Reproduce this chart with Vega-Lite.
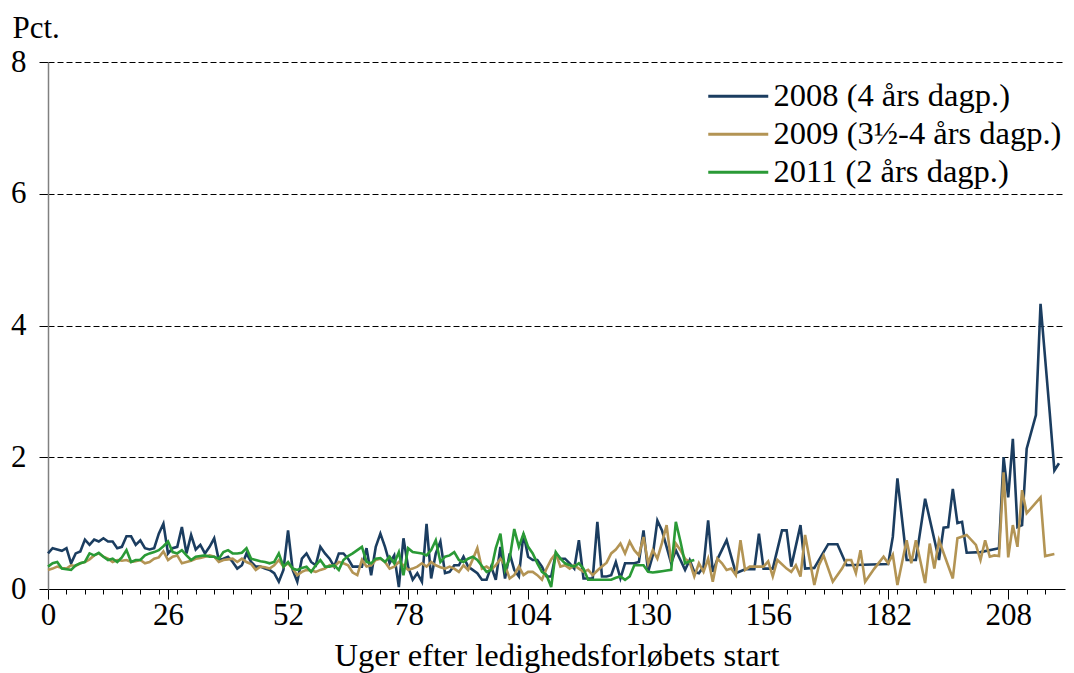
{
"$schema": "https://vega.github.io/schema/vega-lite/v6.json",
"width": 1017, "height": 527,
"autosize": {"type": "none"},
"padding": {"left": 48, "top": 62, "right": 9, "bottom": 84},
"background": "white",
"config": {"view": {"stroke": null}, "font": "Liberation Serif"},
"data": {"values": [
{"s":"2008","w":0,"v":0.54},{"s":"2008","w":1,"v":0.62},{"s":"2008","w":2,"v":0.6},{"s":"2008","w":3,"v":0.58},{"s":"2008","w":4,"v":0.62},{"s":"2008","w":5,"v":0.39},{"s":"2008","w":6,"v":0.54},{"s":"2008","w":7,"v":0.57},{"s":"2008","w":8,"v":0.75},{"s":"2008","w":9,"v":0.67},
{"s":"2008","w":10,"v":0.75},{"s":"2008","w":11,"v":0.72},{"s":"2008","w":12,"v":0.77},{"s":"2008","w":13,"v":0.72},{"s":"2008","w":14,"v":0.72},{"s":"2008","w":15,"v":0.62},{"s":"2008","w":16,"v":0.64},{"s":"2008","w":17,"v":0.8},{"s":"2008","w":18,"v":0.8},{"s":"2008","w":19,"v":0.67},
{"s":"2008","w":20,"v":0.74},{"s":"2008","w":21,"v":0.62},{"s":"2008","w":22,"v":0.6},{"s":"2008","w":23,"v":0.62},{"s":"2008","w":24,"v":0.84},{"s":"2008","w":25,"v":0.99},{"s":"2008","w":26,"v":0.54},{"s":"2008","w":27,"v":0.62},{"s":"2008","w":28,"v":0.64},{"s":"2008","w":29,"v":0.94},
{"s":"2008","w":30,"v":0.54},{"s":"2008","w":31,"v":0.82},{"s":"2008","w":32,"v":0.6},{"s":"2008","w":33,"v":0.67},{"s":"2008","w":34,"v":0.54},{"s":"2008","w":35,"v":0.64},{"s":"2008","w":36,"v":0.77},{"s":"2008","w":37,"v":0.44},{"s":"2008","w":38,"v":0.46},{"s":"2008","w":39,"v":0.49},
{"s":"2008","w":40,"v":0.41},{"s":"2008","w":41,"v":0.31},{"s":"2008","w":42,"v":0.36},{"s":"2008","w":43,"v":0.54},{"s":"2008","w":44,"v":0.41},{"s":"2008","w":45,"v":0.34},{"s":"2008","w":46,"v":0.34},{"s":"2008","w":47,"v":0.31},{"s":"2008","w":48,"v":0.29},{"s":"2008","w":49,"v":0.24},
{"s":"2008","w":50,"v":0.11},{"s":"2008","w":51,"v":0.29},{"s":"2008","w":52,"v":0.89},{"s":"2008","w":53,"v":0.29},{"s":"2008","w":54,"v":0.11},{"s":"2008","w":55,"v":0.46},{"s":"2008","w":56,"v":0.54},{"s":"2008","w":57,"v":0.41},{"s":"2008","w":58,"v":0.36},{"s":"2008","w":59,"v":0.64},
{"s":"2008","w":60,"v":0.54},{"s":"2008","w":61,"v":0.46},{"s":"2008","w":62,"v":0.34},{"s":"2008","w":63,"v":0.54},{"s":"2008","w":64,"v":0.54},{"s":"2008","w":65,"v":0.46},{"s":"2008","w":66,"v":0.34},{"s":"2008","w":67,"v":0.34},{"s":"2008","w":68,"v":0.34},{"s":"2008","w":69,"v":0.62},
{"s":"2008","w":70,"v":0.21},{"s":"2008","w":71,"v":0.64},{"s":"2008","w":72,"v":0.84},{"s":"2008","w":73,"v":0.64},{"s":"2008","w":74,"v":0.39},{"s":"2008","w":75,"v":0.51},{"s":"2008","w":76,"v":0.03},{"s":"2008","w":77,"v":0.77},{"s":"2008","w":78,"v":0.34},{"s":"2008","w":79,"v":0.14},
{"s":"2008","w":80,"v":0.24},{"s":"2008","w":81,"v":0.11},{"s":"2008","w":82,"v":0.99},{"s":"2008","w":83,"v":0.16},{"s":"2008","w":84,"v":0.54},{"s":"2008","w":85,"v":0.72},{"s":"2008","w":86,"v":0.24},{"s":"2008","w":87,"v":0.26},{"s":"2008","w":88,"v":0.36},{"s":"2008","w":89,"v":0.36},
{"s":"2008","w":90,"v":0.49},{"s":"2008","w":91,"v":0.34},{"s":"2008","w":92,"v":0.29},{"s":"2008","w":93,"v":0.24},{"s":"2008","w":94,"v":0.14},{"s":"2008","w":95,"v":0.14},{"s":"2008","w":96,"v":0.34},{"s":"2008","w":97,"v":0.14},{"s":"2008","w":98,"v":0.64},{"s":"2008","w":99,"v":0.16},
{"s":"2008","w":100,"v":0.54},{"s":"2008","w":101,"v":0.29},{"s":"2008","w":102,"v":0.19},{"s":"2008","w":103,"v":0.84},{"s":"2008","w":104,"v":0.49},{"s":"2008","w":105,"v":0.44},{"s":"2008","w":106,"v":0.44},{"s":"2008","w":107,"v":0.34},{"s":"2008","w":108,"v":0.19},{"s":"2008","w":109,"v":0.19},
{"s":"2008","w":110,"v":0.54},{"s":"2008","w":111,"v":0.46},{"s":"2008","w":112,"v":0.46},{"s":"2008","w":113,"v":0.39},{"s":"2008","w":114,"v":0.31},{"s":"2008","w":115,"v":0.74},{"s":"2008","w":116,"v":0.16},{"s":"2008","w":117,"v":0.16},{"s":"2008","w":118,"v":0.16},{"s":"2008","w":119,"v":1.02},
{"s":"2008","w":120,"v":0.19},{"s":"2008","w":121,"v":0.19},{"s":"2008","w":122,"v":0.21},{"s":"2008","w":123,"v":0.41},{"s":"2008","w":124,"v":0.16},{"s":"2008","w":125,"v":0.39},{"s":"2008","w":126,"v":0.39},{"s":"2008","w":127,"v":0.39},{"s":"2008","w":128,"v":0.41},{"s":"2008","w":129,"v":0.89},
{"s":"2008","w":130,"v":0.26},{"s":"2008","w":131,"v":0.51},{"s":"2008","w":132,"v":1.04},{"s":"2008","w":133,"v":0.89},{"s":"2008","w":134,"v":0.64},{"s":"2008","w":135,"v":0.39},{"s":"2008","w":136,"v":0.59},{"s":"2008","w":137,"v":0.44},{"s":"2008","w":138,"v":0.29},{"s":"2008","w":139,"v":0.44},
{"s":"2008","w":140,"v":0.26},{"s":"2008","w":141,"v":0.24},{"s":"2008","w":142,"v":0.34},{"s":"2008","w":143,"v":1.04},{"s":"2008","w":144,"v":0.26},{"s":"2008","w":145,"v":0.45},{"s":"2008","w":147,"v":0.74},{"s":"2008","w":149,"v":0.24},{"s":"2008","w":151,"v":0.3},{"s":"2008","w":153,"v":0.3},
{"s":"2008","w":154,"v":0.84},{"s":"2008","w":155,"v":0.31},{"s":"2008","w":157,"v":0.31},{"s":"2008","w":159,"v":0.89},{"s":"2008","w":160,"v":0.89},{"s":"2008","w":161,"v":0.34},{"s":"2008","w":163,"v":0.97},{"s":"2008","w":164,"v":0.31},{"s":"2008","w":166,"v":0.32},{"s":"2008","w":169,"v":0.68},
{"s":"2008","w":171,"v":0.68},{"s":"2008","w":173,"v":0.36},{"s":"2008","w":182,"v":0.38},{"s":"2008","w":183,"v":0.79},{"s":"2008","w":184,"v":1.68},{"s":"2008","w":186,"v":0.44},{"s":"2008","w":188,"v":0.44},{"s":"2008","w":190,"v":1.37},{"s":"2008","w":193,"v":0.44},{"s":"2008","w":194,"v":0.93},
{"s":"2008","w":195,"v":0.94},{"s":"2008","w":196,"v":1.52},{"s":"2008","w":197,"v":1.0},{"s":"2008","w":198,"v":1.02},{"s":"2008","w":199,"v":0.55},{"s":"2008","w":202,"v":0.56},{"s":"2008","w":206,"v":0.62},{"s":"2008","w":207,"v":2.0},{"s":"2008","w":208,"v":1.39},{"s":"2008","w":209,"v":2.28},
{"s":"2008","w":210,"v":0.94},{"s":"2008","w":211,"v":0.97},{"s":"2008","w":212,"v":2.13},{"s":"2008","w":214,"v":2.64},{"s":"2008","w":215,"v":4.33},{"s":"2008","w":217,"v":2.67},{"s":"2008","w":218,"v":1.8},{"s":"2008","w":219,"v":1.91},
{"s":"2009","w":0,"v":0.29},{"s":"2009","w":1,"v":0.31},{"s":"2009","w":2,"v":0.34},{"s":"2009","w":3,"v":0.32},{"s":"2009","w":4,"v":0.31},{"s":"2009","w":5,"v":0.36},{"s":"2009","w":6,"v":0.35},{"s":"2009","w":7,"v":0.39},{"s":"2009","w":8,"v":0.41},{"s":"2009","w":9,"v":0.45},
{"s":"2009","w":10,"v":0.51},{"s":"2009","w":11,"v":0.54},{"s":"2009","w":12,"v":0.49},{"s":"2009","w":13,"v":0.46},{"s":"2009","w":14,"v":0.41},{"s":"2009","w":15,"v":0.44},{"s":"2009","w":16,"v":0.43},{"s":"2009","w":17,"v":0.44},{"s":"2009","w":18,"v":0.41},{"s":"2009","w":19,"v":0.42},
{"s":"2009","w":20,"v":0.44},{"s":"2009","w":21,"v":0.39},{"s":"2009","w":22,"v":0.41},{"s":"2009","w":23,"v":0.46},{"s":"2009","w":24,"v":0.48},{"s":"2009","w":25,"v":0.57},{"s":"2009","w":26,"v":0.44},{"s":"2009","w":27,"v":0.49},{"s":"2009","w":28,"v":0.51},{"s":"2009","w":29,"v":0.39},
{"s":"2009","w":30,"v":0.41},{"s":"2009","w":31,"v":0.43},{"s":"2009","w":32,"v":0.46},{"s":"2009","w":33,"v":0.47},{"s":"2009","w":34,"v":0.49},{"s":"2009","w":35,"v":0.51},{"s":"2009","w":36,"v":0.49},{"s":"2009","w":37,"v":0.41},{"s":"2009","w":38,"v":0.44},{"s":"2009","w":39,"v":0.45},
{"s":"2009","w":40,"v":0.46},{"s":"2009","w":41,"v":0.41},{"s":"2009","w":42,"v":0.46},{"s":"2009","w":43,"v":0.41},{"s":"2009","w":44,"v":0.38},{"s":"2009","w":45,"v":0.29},{"s":"2009","w":46,"v":0.34},{"s":"2009","w":47,"v":0.33},{"s":"2009","w":48,"v":0.31},{"s":"2009","w":49,"v":0.36},
{"s":"2009","w":50,"v":0.44},{"s":"2009","w":51,"v":0.34},{"s":"2009","w":52,"v":0.39},{"s":"2009","w":53,"v":0.31},{"s":"2009","w":54,"v":0.21},{"s":"2009","w":55,"v":0.26},{"s":"2009","w":56,"v":0.29},{"s":"2009","w":57,"v":0.28},{"s":"2009","w":58,"v":0.26},{"s":"2009","w":59,"v":0.29},
{"s":"2009","w":60,"v":0.31},{"s":"2009","w":61,"v":0.36},{"s":"2009","w":62,"v":0.34},{"s":"2009","w":63,"v":0.41},{"s":"2009","w":64,"v":0.39},{"s":"2009","w":65,"v":0.36},{"s":"2009","w":66,"v":0.25},{"s":"2009","w":67,"v":0.21},{"s":"2009","w":68,"v":0.44},{"s":"2009","w":69,"v":0.34},
{"s":"2009","w":70,"v":0.36},{"s":"2009","w":71,"v":0.44},{"s":"2009","w":72,"v":0.46},{"s":"2009","w":73,"v":0.41},{"s":"2009","w":74,"v":0.31},{"s":"2009","w":75,"v":0.34},{"s":"2009","w":76,"v":0.41},{"s":"2009","w":77,"v":0.36},{"s":"2009","w":78,"v":0.29},{"s":"2009","w":79,"v":0.31},
{"s":"2009","w":80,"v":0.34},{"s":"2009","w":81,"v":0.39},{"s":"2009","w":82,"v":0.34},{"s":"2009","w":83,"v":0.41},{"s":"2009","w":84,"v":0.36},{"s":"2009","w":85,"v":0.33},{"s":"2009","w":86,"v":0.31},{"s":"2009","w":87,"v":0.34},{"s":"2009","w":88,"v":0.31},{"s":"2009","w":89,"v":0.26},
{"s":"2009","w":90,"v":0.36},{"s":"2009","w":91,"v":0.29},{"s":"2009","w":92,"v":0.45},{"s":"2009","w":93,"v":0.62},{"s":"2009","w":94,"v":0.31},{"s":"2009","w":95,"v":0.34},{"s":"2009","w":96,"v":0.29},{"s":"2009","w":97,"v":0.36},{"s":"2009","w":98,"v":0.46},{"s":"2009","w":99,"v":0.36},
{"s":"2009","w":100,"v":0.16},{"s":"2009","w":101,"v":0.21},{"s":"2009","w":102,"v":0.34},{"s":"2009","w":103,"v":0.21},{"s":"2009","w":104,"v":0.26},{"s":"2009","w":105,"v":0.26},{"s":"2009","w":106,"v":0.21},{"s":"2009","w":107,"v":0.14},{"s":"2009","w":108,"v":0.31},{"s":"2009","w":109,"v":0.45},
{"s":"2009","w":110,"v":0.54},{"s":"2009","w":111,"v":0.34},{"s":"2009","w":112,"v":0.36},{"s":"2009","w":113,"v":0.31},{"s":"2009","w":114,"v":0.36},{"s":"2009","w":115,"v":0.31},{"s":"2009","w":116,"v":0.26},{"s":"2009","w":117,"v":0.29},{"s":"2009","w":118,"v":0.21},{"s":"2009","w":119,"v":0.28},
{"s":"2009","w":120,"v":0.34},{"s":"2009","w":121,"v":0.4},{"s":"2009","w":122,"v":0.54},{"s":"2009","w":123,"v":0.6},{"s":"2009","w":124,"v":0.69},{"s":"2009","w":125,"v":0.54},{"s":"2009","w":126,"v":0.72},{"s":"2009","w":127,"v":0.59},{"s":"2009","w":128,"v":0.51},{"s":"2009","w":129,"v":0.79},
{"s":"2009","w":130,"v":0.39},{"s":"2009","w":131,"v":0.59},{"s":"2009","w":132,"v":0.46},{"s":"2009","w":133,"v":0.7},{"s":"2009","w":134,"v":0.97},{"s":"2009","w":135,"v":0.41},{"s":"2009","w":136,"v":0.69},{"s":"2009","w":137,"v":0.59},{"s":"2009","w":138,"v":0.46},{"s":"2009","w":139,"v":0.41},
{"s":"2009","w":140,"v":0.19},{"s":"2009","w":141,"v":0.39},{"s":"2009","w":142,"v":0.26},{"s":"2009","w":143,"v":0.46},{"s":"2009","w":144,"v":0.11},{"s":"2009","w":145,"v":0.46},{"s":"2009","w":146,"v":0.39},{"s":"2009","w":147,"v":0.29},{"s":"2009","w":148,"v":0.31},{"s":"2009","w":149,"v":0.21},
{"s":"2009","w":150,"v":0.74},{"s":"2009","w":151,"v":0.29},{"s":"2009","w":152,"v":0.34},{"s":"2009","w":154,"v":0.34},{"s":"2009","w":155,"v":0.34},{"s":"2009","w":156,"v":0.42},{"s":"2009","w":157,"v":0.19},{"s":"2009","w":158,"v":0.44},{"s":"2009","w":160,"v":0.31},{"s":"2009","w":161,"v":0.26},
{"s":"2009","w":162,"v":0.36},{"s":"2009","w":163,"v":0.19},{"s":"2009","w":164,"v":0.82},{"s":"2009","w":165,"v":0.44},{"s":"2009","w":166,"v":0.06},{"s":"2009","w":167,"v":0.36},{"s":"2009","w":168,"v":0.51},{"s":"2009","w":170,"v":0.11},{"s":"2009","w":172,"v":0.31},{"s":"2009","w":173,"v":0.44},
{"s":"2009","w":174,"v":0.44},{"s":"2009","w":175,"v":0.24},{"s":"2009","w":176,"v":0.59},{"s":"2009","w":177,"v":0.11},{"s":"2009","w":179,"v":0.31},{"s":"2009","w":181,"v":0.49},{"s":"2009","w":182,"v":0.39},{"s":"2009","w":183,"v":0.52},{"s":"2009","w":184,"v":0.06},{"s":"2009","w":186,"v":0.74},
{"s":"2009","w":187,"v":0.39},{"s":"2009","w":188,"v":0.74},{"s":"2009","w":190,"v":0.09},{"s":"2009","w":191,"v":0.69},{"s":"2009","w":192,"v":0.31},{"s":"2009","w":193,"v":0.74},{"s":"2009","w":196,"v":0.16},{"s":"2009","w":197,"v":0.77},{"s":"2009","w":199,"v":0.82},{"s":"2009","w":201,"v":0.67},
{"s":"2009","w":202,"v":0.44},{"s":"2009","w":203,"v":0.74},{"s":"2009","w":204,"v":0.49},{"s":"2009","w":205,"v":0.51},{"s":"2009","w":206,"v":0.5},{"s":"2009","w":207,"v":1.77},{"s":"2009","w":208,"v":0.48},{"s":"2009","w":209,"v":0.97},{"s":"2009","w":210,"v":0.64},{"s":"2009","w":211,"v":1.5},
{"s":"2009","w":212,"v":1.15},{"s":"2009","w":215,"v":1.39},{"s":"2009","w":216,"v":0.5},{"s":"2009","w":218,"v":0.53},
{"s":"2011","w":0,"v":0.34},{"s":"2011","w":1,"v":0.39},{"s":"2011","w":2,"v":0.41},{"s":"2011","w":3,"v":0.31},{"s":"2011","w":4,"v":0.3},{"s":"2011","w":5,"v":0.29},{"s":"2011","w":6,"v":0.36},{"s":"2011","w":7,"v":0.39},{"s":"2011","w":8,"v":0.41},{"s":"2011","w":9,"v":0.54},
{"s":"2011","w":10,"v":0.51},{"s":"2011","w":11,"v":0.55},{"s":"2011","w":12,"v":0.49},{"s":"2011","w":13,"v":0.44},{"s":"2011","w":14,"v":0.46},{"s":"2011","w":15,"v":0.41},{"s":"2011","w":16,"v":0.48},{"s":"2011","w":17,"v":0.59},{"s":"2011","w":18,"v":0.41},{"s":"2011","w":19,"v":0.44},
{"s":"2011","w":20,"v":0.44},{"s":"2011","w":21,"v":0.51},{"s":"2011","w":22,"v":0.54},{"s":"2011","w":23,"v":0.56},{"s":"2011","w":24,"v":0.59},{"s":"2011","w":25,"v":0.65},{"s":"2011","w":26,"v":0.72},{"s":"2011","w":27,"v":0.56},{"s":"2011","w":28,"v":0.54},{"s":"2011","w":29,"v":0.59},
{"s":"2011","w":30,"v":0.51},{"s":"2011","w":31,"v":0.44},{"s":"2011","w":32,"v":0.49},{"s":"2011","w":33,"v":0.5},{"s":"2011","w":34,"v":0.51},{"s":"2011","w":35,"v":0.49},{"s":"2011","w":36,"v":0.49},{"s":"2011","w":37,"v":0.46},{"s":"2011","w":38,"v":0.56},{"s":"2011","w":39,"v":0.59},
{"s":"2011","w":40,"v":0.54},{"s":"2011","w":41,"v":0.54},{"s":"2011","w":42,"v":0.55},{"s":"2011","w":43,"v":0.62},{"s":"2011","w":44,"v":0.46},{"s":"2011","w":45,"v":0.44},{"s":"2011","w":46,"v":0.42},{"s":"2011","w":47,"v":0.41},{"s":"2011","w":48,"v":0.39},{"s":"2011","w":49,"v":0.41},
{"s":"2011","w":50,"v":0.54},{"s":"2011","w":51,"v":0.34},{"s":"2011","w":52,"v":0.41},{"s":"2011","w":53,"v":0.31},{"s":"2011","w":54,"v":0.29},{"s":"2011","w":55,"v":0.32},{"s":"2011","w":56,"v":0.34},{"s":"2011","w":57,"v":0.26},{"s":"2011","w":58,"v":0.36},{"s":"2011","w":59,"v":0.44},
{"s":"2011","w":60,"v":0.34},{"s":"2011","w":61,"v":0.34},{"s":"2011","w":62,"v":0.36},{"s":"2011","w":63,"v":0.29},{"s":"2011","w":64,"v":0.44},{"s":"2011","w":65,"v":0.5},{"s":"2011","w":66,"v":0.54},{"s":"2011","w":67,"v":0.59},{"s":"2011","w":68,"v":0.64},{"s":"2011","w":69,"v":0.41},
{"s":"2011","w":70,"v":0.39},{"s":"2011","w":71,"v":0.46},{"s":"2011","w":72,"v":0.47},{"s":"2011","w":73,"v":0.41},{"s":"2011","w":74,"v":0.49},{"s":"2011","w":75,"v":0.39},{"s":"2011","w":76,"v":0.56},{"s":"2011","w":77,"v":0.21},{"s":"2011","w":78,"v":0.62},{"s":"2011","w":79,"v":0.56},
{"s":"2011","w":80,"v":0.55},{"s":"2011","w":81,"v":0.54},{"s":"2011","w":82,"v":0.51},{"s":"2011","w":83,"v":0.59},{"s":"2011","w":84,"v":0.74},{"s":"2011","w":85,"v":0.41},{"s":"2011","w":86,"v":0.49},{"s":"2011","w":87,"v":0.51},{"s":"2011","w":88,"v":0.56},{"s":"2011","w":89,"v":0.44},
{"s":"2011","w":90,"v":0.41},{"s":"2011","w":91,"v":0.46},{"s":"2011","w":92,"v":0.49},{"s":"2011","w":93,"v":0.44},{"s":"2011","w":94,"v":0.35},{"s":"2011","w":95,"v":0.26},{"s":"2011","w":96,"v":0.29},{"s":"2011","w":97,"v":0.62},{"s":"2011","w":98,"v":0.84},{"s":"2011","w":99,"v":0.29},
{"s":"2011","w":100,"v":0.46},{"s":"2011","w":101,"v":0.91},{"s":"2011","w":102,"v":0.64},{"s":"2011","w":103,"v":0.84},{"s":"2011","w":104,"v":0.64},{"s":"2011","w":105,"v":0.54},{"s":"2011","w":106,"v":0.39},{"s":"2011","w":107,"v":0.26},{"s":"2011","w":108,"v":0.21},{"s":"2011","w":109,"v":0.03},
{"s":"2011","w":110,"v":0.56},{"s":"2011","w":111,"v":0.46},{"s":"2011","w":112,"v":0.39},{"s":"2011","w":113,"v":0.36},{"s":"2011","w":114,"v":0.34},{"s":"2011","w":115,"v":0.39},{"s":"2011","w":116,"v":0.31},{"s":"2011","w":117,"v":0.14},{"s":"2011","w":118,"v":0.14},{"s":"2011","w":119,"v":0.14},
{"s":"2011","w":120,"v":0.14},{"s":"2011","w":121,"v":0.14},{"s":"2011","w":122,"v":0.14},{"s":"2011","w":123,"v":0.17},{"s":"2011","w":124,"v":0.19},{"s":"2011","w":125,"v":0.14},{"s":"2011","w":126,"v":0.19},{"s":"2011","w":127,"v":0.36},{"s":"2011","w":128,"v":0.36},{"s":"2011","w":129,"v":0.36},
{"s":"2011","w":130,"v":0.26},{"s":"2011","w":131,"v":0.25},{"s":"2011","w":132,"v":0.26},{"s":"2011","w":133,"v":0.27},{"s":"2011","w":134,"v":0.28},{"s":"2011","w":135,"v":0.29},{"s":"2011","w":136,"v":1.02},{"s":"2011","w":137,"v":0.72},{"s":"2011","w":138,"v":0.39},{"s":"2011","w":139,"v":0.42},
{"s":"2011","w":140,"v":0.44}
]},
"mark": {"type": "line", "strokeWidth": 2.6},
"encoding": {
"x": {"field": "w", "type": "quantitative",
 "scale": {"domain": [0, 220.3], "nice": false, "zero": false},
 "axis": {
  "values": [0,4,8,12,16,20,24,26,28,32,36,40,44,48,52,56,60,64,68,72,76,78,80,84,88,92,96,100,104,108,112,116,120,124,128,130,132,136,140,144,148,152,156,160,164,168,172,176,180,182,184,188,192,196,200,204,208,212,216],
  "labelExpr": "datum.value % 26 === 0 ? datum.label : ''",
  "format": "d",
  "tickSize": {"condition": {"test": "datum.value % 26 === 0", "value": 10}, "value": 5},
  "tickColor": "black", "domainColor": "black", "grid": false,
  "labelFontSize": 31, "labelColor": "black", "labelPadding": 1, "labelOverlap": false, "labelFlush": false,
  "title": "Uger efter ledighedsforløbets start",
  "titleFontSize": 32.5, "titleFontWeight": "normal", "titleColor": "black",
  "titleBaseline": "alphabetic", "titleY": 76,
  "encode": {"labels": {"update": {"dx": {"signal": "datum.value===26?-7:datum.value===52?-10:datum.value===78?-14:datum.value===104?-7:datum.value===130?-4:datum.value===156?-10:datum.value===182?-14:datum.value===208?-20:-2"}}}}
 }},
"y": {"field": "v", "type": "quantitative",
 "scale": {"domain": [0, 8], "nice": false},
 "axis": {"values": [0,2,4,6,8], "format": "d",
  "title": "Pct.", "titleAngle": 0, "titleAlign": "left", "titleBaseline": "alphabetic",
  "titleX": -36, "titleY": -25, "titleFontSize": 31, "titleFontWeight": "normal", "titleColor": "black",
  "grid": true, "gridDash": [6, 3], "gridColor": "black", "gridWidth": 1,
  "domainColor": "#808080", "domainWidth": 1.5, "tickSize": 9, "tickColor": "black",
  "labelPadding": 13, "labelFontSize": 31, "labelColor": "black"}},
"color": {"field": "s", "type": "nominal",
 "scale": {"domain": ["2008", "2009", "2011"], "range": ["#1b3d60", "#b39454", "#2a9a36"]},
 "legend": {"orient": "none", "legendX": 674, "legendY": 18, "title": null,
  "symbolType": "M-3,0H3", "symbolSize": 400, "symbolStrokeWidth": 3,
  "labelFontSize": 32.5, "labelColor": "black", "labelOffset": 19, "labelLimit": 0,
  "rowPadding": 5, "padding": 0,
  "labelExpr": "datum.label === '2008' ? '2008 (4 års dagp.)' : datum.label === '2009' ? '2009 (3½-4 års dagp.)' : '2011 (2 års dagp.)'"}}
}
}
